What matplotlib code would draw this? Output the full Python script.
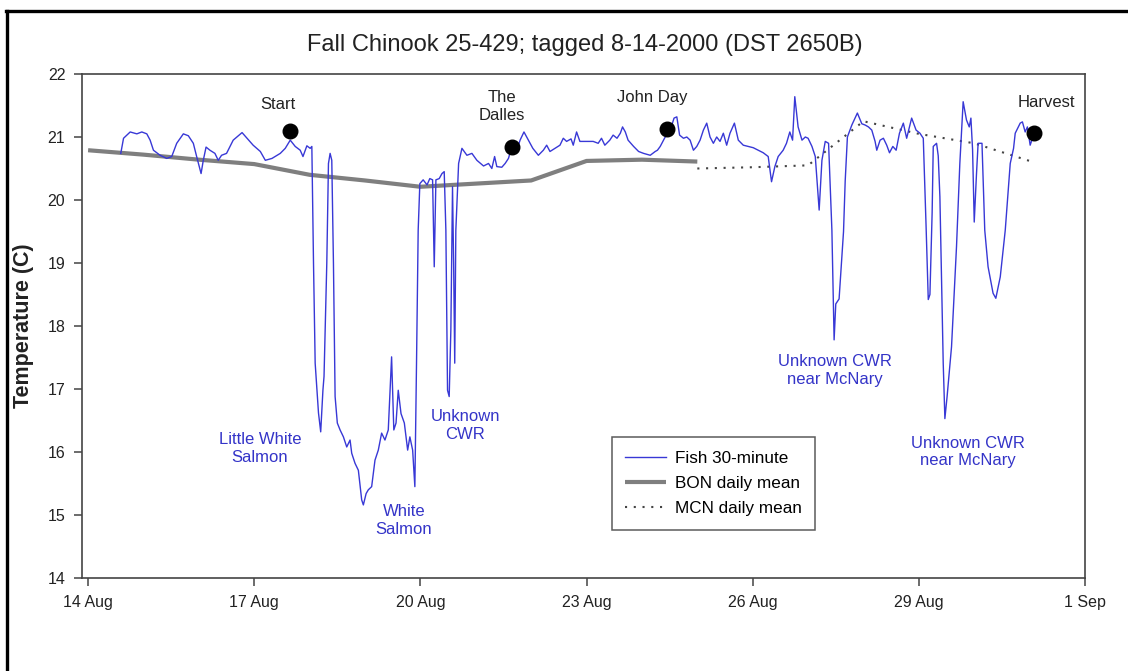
import matplotlib
matplotlib.use("Agg")
import matplotlib.pyplot as plt
from matplotlib.lines import Line2D

plt.rcParams['font.family'] = ['Liberation Sans', 'DejaVu Sans']

# ---- data (x = days after 14 Aug 2000 00:00, y = temperature in C) ----
fish_days = [
    0.59, 0.64, 0.76, 0.88, 0.97, 1.06, 1.12, 1.18, 1.30, 1.42, 1.51, 1.60, 1.72, 1.81, 1.90,
    1.96, 2.04, 2.08, 2.13, 2.20, 2.29, 2.35, 2.41, 2.50, 2.62, 2.78, 2.87, 2.98, 3.11, 3.20,
    3.32, 3.47, 3.56, 3.65, 3.74, 3.83, 3.88, 3.95, 4.01, 4.04, 4.07, 4.10, 4.16, 4.20, 4.24,
    4.26, 4.31, 4.34, 4.37, 4.40, 4.43, 4.46, 4.50, 4.55, 4.61, 4.67, 4.73, 4.76, 4.82, 4.88,
    4.94, 4.97, 5.02, 5.06, 5.12, 5.18, 5.24, 5.30, 5.36, 5.42, 5.48, 5.52, 5.56, 5.60, 5.65,
    5.71, 5.77, 5.81, 5.86, 5.90, 5.93, 5.96, 5.99, 6.05, 6.12, 6.17, 6.22, 6.25, 6.28, 6.34,
    6.39, 6.43, 6.46, 6.49, 6.52, 6.55, 6.58, 6.60, 6.62, 6.64, 6.69, 6.75, 6.84, 6.93, 7.02,
    7.14, 7.23, 7.29, 7.34, 7.38, 7.47, 7.53, 7.59, 7.65, 7.74, 7.80, 7.87, 7.95, 8.03, 8.13,
    8.22, 8.28, 8.34, 8.43, 8.52, 8.58, 8.64, 8.72, 8.76, 8.82, 8.88, 9.00, 9.12, 9.21, 9.27,
    9.33, 9.42, 9.48, 9.55, 9.61, 9.65, 9.70, 9.75, 9.85, 9.94, 10.03, 10.15, 10.24, 10.28, 10.33,
    10.42, 10.50, 10.54, 10.58, 10.63, 10.68, 10.75, 10.81, 10.87, 10.93, 10.99, 11.05, 11.11, 11.17, 11.23,
    11.29, 11.35, 11.41, 11.47, 11.53, 11.59, 11.67, 11.74, 11.83, 11.92, 12.01, 12.10, 12.19, 12.28, 12.34,
    12.40, 12.46, 12.55, 12.61, 12.67, 12.72, 12.76, 12.82, 12.89, 12.95, 13.00, 13.07, 13.13, 13.20, 13.25,
    13.31, 13.37, 13.43, 13.47, 13.50, 13.56, 13.64, 13.67, 13.71, 13.79, 13.89, 13.97, 14.03, 14.09, 14.15,
    14.21, 14.24, 14.30, 14.36, 14.42, 14.47, 14.53, 14.59, 14.65, 14.72, 14.78, 14.87, 14.95, 15.02, 15.08,
    15.13, 15.17, 15.20, 15.24, 15.26, 15.32, 15.35, 15.38, 15.44, 15.47, 15.51, 15.59, 15.68, 15.74, 15.80,
    15.86, 15.91, 15.94, 15.97, 16.00, 16.04, 16.07, 16.14, 16.19, 16.25, 16.34, 16.39, 16.47, 16.56, 16.65,
    16.71, 16.74, 16.83, 16.87, 16.92, 16.96, 17.01, 17.04,
]
fish_temp = [
    20.74, 20.98, 21.08, 21.05, 21.08, 21.05, 20.95, 20.79, 20.71, 20.66, 20.69, 20.90, 21.05, 21.02, 20.90,
    20.69, 20.42, 20.63, 20.84, 20.79, 20.74, 20.63, 20.71, 20.74, 20.95, 21.07, 20.98, 20.87, 20.77, 20.63,
    20.66, 20.74, 20.82, 20.95, 20.85, 20.79, 20.69, 20.86, 20.82, 20.85, 19.00, 17.41, 16.62, 16.32, 16.98,
    17.20, 19.00, 20.58, 20.74, 20.63, 19.00, 16.88, 16.46, 16.35, 16.24, 16.08, 16.19, 15.98, 15.82, 15.71,
    15.24, 15.16, 15.34, 15.40, 15.45, 15.87, 16.03, 16.30, 16.19, 16.35, 17.51, 16.35, 16.46, 16.98, 16.61,
    16.46, 16.03, 16.24, 16.03, 15.45, 17.41, 19.52, 20.26, 20.32, 20.24, 20.34, 20.32, 18.94, 20.32, 20.34,
    20.42, 20.45, 19.52, 16.98, 16.88, 17.94, 20.21, 19.00, 17.41, 19.52, 20.58, 20.82, 20.71, 20.74, 20.63,
    20.54, 20.58, 20.50, 20.69, 20.53, 20.52, 20.58, 20.66, 20.84, 20.79, 20.95, 21.08, 20.95, 20.82, 20.71,
    20.79, 20.87, 20.77, 20.82, 20.87, 20.98, 20.93, 20.97, 20.87, 21.08, 20.93, 20.93, 20.93, 20.90, 20.98,
    20.87, 20.95, 21.03, 20.98, 21.06, 21.16, 21.08, 20.95, 20.85, 20.77, 20.74, 20.71, 20.77, 20.79, 20.85,
    21.00, 21.10, 21.19, 21.30, 21.32, 21.03, 20.98, 21.00, 20.95, 20.79, 20.85, 20.95, 21.11, 21.22, 21.00,
    20.90, 21.00, 20.93, 21.06, 20.87, 21.06, 21.22, 20.95, 20.87, 20.85, 20.83, 20.79, 20.75, 20.69, 20.29,
    20.53, 20.69, 20.79, 20.90, 21.08, 20.95, 21.64, 21.16, 20.95, 21.00, 20.98, 20.85, 20.69, 19.84, 20.63,
    20.93, 20.90, 19.52, 17.78, 18.35, 18.43, 19.50, 20.30, 21.00, 21.19, 21.38, 21.21, 21.19, 21.16, 21.11,
    20.93, 20.79, 20.95, 20.98, 20.87, 20.75, 20.85, 20.79, 21.06, 21.22, 20.98, 21.30, 21.11, 21.06, 20.98,
    19.60, 18.42, 18.50, 19.80, 20.85, 20.90, 20.70, 20.05, 17.41, 16.53, 16.88, 17.67, 19.26, 20.58, 21.56,
    21.27, 21.16, 21.30, 20.80, 19.65, 20.40, 20.90, 20.90, 19.52, 18.94, 18.52, 18.44, 18.78, 19.52, 20.58,
    20.82, 21.06, 21.22, 21.24, 21.08, 21.16, 20.87, 20.95,
]

bon_days = [0, 1, 2, 3, 4, 5, 6, 7, 8, 9, 10, 11]
bon_temp = [20.79, 20.72, 20.64, 20.57, 20.40, 20.31, 20.21, 20.26, 20.31, 20.62, 20.64, 20.61]

mcn_days = [11, 12, 13, 14, 15, 16, 17]
mcn_temp = [20.50, 20.52, 20.55, 21.25, 21.05, 20.90, 20.62]

site_names = ['Start', 'The\nDalles', 'John Day', 'Harvest']
site_days = [3.65, 7.65, 10.46, 17.08]
site_temp = [21.10, 20.84, 21.12, 21.06]
site_label_pos = [(3.43, 21.52), (7.47, 21.48), (10.18, 21.62), (17.31, 21.54)]

cwr_names = ['Little White\nSalmon', 'White\nSalmon', 'Unknown\nCWR',
             'Unknown CWR\nnear McNary', 'Unknown CWR\nnear McNary']
cwr_label_pos = [(3.10, 16.05), (5.70, 14.92), (6.81, 16.42), (13.49, 17.30), (15.89, 16.00)]

tick_days = [0, 3, 6, 9, 12, 15, 18]
tick_labels = ['14 Aug', '17 Aug', '20 Aug', '23 Aug', '26 Aug', '29 Aug', '1 Sep']
y_ticks = [14, 15, 16, 17, 18, 19, 20, 21, 22]

title = 'Fall Chinook 25-429; tagged 8-14-2000 (DST 2650B)'

# ---- figure ----
fig = plt.figure(figsize=(11.28, 6.71), dpi=100)
ax = fig.add_axes([82 / 1128, 1 - 578 / 671, 1003 / 1128, 504 / 671])

blue = '#3838d6'
text_blue = '#3434c8'
axis_col = '#444444'

ax.plot(fish_days, fish_temp, color=blue, lw=1.0, label='Fish 30-minute', zorder=3)
ax.plot(bon_days, bon_temp, color='#7f7f7f', lw=3.0, label='BON daily mean', zorder=2,
        solid_capstyle='butt')
ax.plot(mcn_days, mcn_temp, color='#444444', lw=1.5, ls=(0, (1, 3.2)),
        label='MCN daily mean', zorder=2)
ax.scatter(site_days, site_temp, s=110, color='black', zorder=5)

for name, (xd, yt) in zip(site_names, site_label_pos):
    ax.text(xd, yt, name, ha='center', va='center', fontsize=12, color='#222222',
            linespacing=1.25)
for name, (xd, yt) in zip(cwr_names, cwr_label_pos):
    ax.text(xd, yt, name, ha='center', va='center', fontsize=12, color=text_blue,
            linespacing=1.25)

ax.set_xlim(-0.11, 18)
ax.set_ylim(14, 22)
ax.set_xticks(tick_days)
ax.set_xticklabels(tick_labels)
ax.set_yticks(y_ticks)
ax.tick_params(axis='both', direction='out', length=6, width=1.1, color=axis_col,
               labelsize=11.5, labelcolor='#222222', pad=6)
for sp in ax.spines.values():
    sp.set_color(axis_col)
    sp.set_linewidth(1.2)

ax.set_ylabel('Temperature (C)', fontsize=15.5, fontweight='bold', color='#222222',
              labelpad=10)
fig.text(585 / 1128, 1 - 45 / 671, title, ha='center', va='center', fontsize=17,
         color='#222222')

leg = ax.legend(loc='lower left', bbox_to_anchor=(0.528, 0.095), fontsize=12.3,
                frameon=True, fancybox=False, edgecolor='#333333', handlelength=2.4,
                borderpad=0.8, labelspacing=0.6, handletextpad=0.5, borderaxespad=0)
leg.get_frame().set_linewidth(1.1)

# outer border lines of the page
fig.add_artist(Line2D([7 / 1128, 7 / 1128], [0, 1 - 11 / 671], color='black', lw=2.4,
                      transform=fig.transFigure))
fig.add_artist(Line2D([6 / 1128, 1], [1 - 11 / 671, 1 - 11 / 671], color='black', lw=2.4,
                      transform=fig.transFigure))

fig.savefig('out.png', dpi=100)
